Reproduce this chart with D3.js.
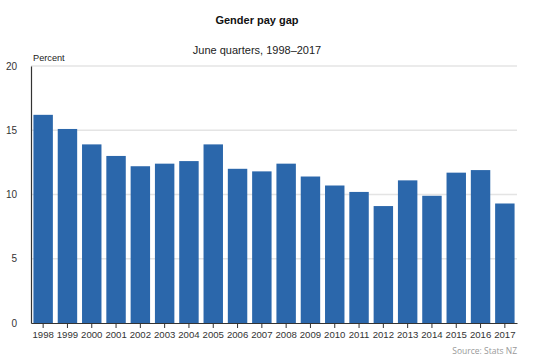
<!DOCTYPE html>
<html><head><meta charset="utf-8">
<script src="https://cdn.jsdelivr.net/npm/d3@7"></script>
<style>body{margin:0;background:#fff}svg{display:block}</style>
</head><body>
<script>
const years = ["1998","1999","2000","2001","2002","2003","2004","2005","2006","2007","2008","2009","2010","2011","2012","2013","2014","2015","2016","2017"];
const gap = [16.2,15.1,13.9,13.0,12.2,12.4,12.6,13.9,12.0,11.8,12.4,11.4,10.7,10.2,9.1,11.1,9.9,11.7,11.9,9.3];
const yTicks = [0,5,10,15,20];

const W = 535, H = 361;
const m = {left:31, right:18, top:66, bottom:38};
const svg = d3.select("body").append("svg").attr("width",W).attr("height",H);
const font = "Liberation Sans, Arial, sans-serif";

const x = d3.scaleBand().domain(years).range([m.left, W-m.right]).paddingInner(0.2).paddingOuter(0.1);
const y = d3.scaleLinear().domain([0,20]).range([H-m.bottom, m.top]);

// gridlines
svg.append("g").selectAll("line").data(yTicks.filter(d=>d>0)).join("line")
  .attr("x1", m.left).attr("x2", W-m.right)
  .attr("y1", d=>y(d)).attr("y2", d=>y(d))
  .attr("stroke","#e4e4e4").attr("stroke-width",1.5);

// bars
svg.append("g").selectAll("rect").data(years).join("rect")
  .attr("x", d=>x(d)).attr("width", x.bandwidth())
  .attr("y", (d,i)=>y(gap[i])).attr("height",(d,i)=>y(0)-y(gap[i]))
  .attr("fill","#2b67ab");

// y axis
const yAxis = d3.axisLeft(y).tickValues(yTicks).tickSize(0).tickPadding(14);
const gy = svg.append("g").attr("transform",`translate(${m.left},0)`).call(yAxis);
gy.select(".domain").attr("stroke","#333").attr("stroke-width",1.2);
gy.selectAll("text").attr("font-family",font).attr("font-size",10).attr("fill","#333");

// x axis
const xAxis = d3.axisBottom(x).tickSize(5).tickSizeOuter(0).tickPadding(3);
const gx = svg.append("g").attr("transform",`translate(0,${y(0)})`).call(xAxis);
gx.select(".domain").attr("stroke","#333").attr("stroke-width",1.2);
gx.selectAll(".tick line").attr("stroke","#333");
gx.selectAll("text").attr("font-family",font).attr("font-size",9.6).attr("fill","#333");

// titles
svg.append("text").attr("x",257).attr("y",24).attr("text-anchor","middle")
  .attr("font-family",font).attr("font-weight","bold").attr("font-size",11).attr("fill","#111")
  .text("Gender pay gap");
svg.append("text").attr("x",257).attr("y",54).attr("text-anchor","middle")
  .attr("font-family",font).attr("font-size",11).attr("fill","#222")
  .text("June quarters, 1998–2017");
svg.append("text").attr("x",33).attr("y",61)
  .attr("font-family",font).attr("font-size",9.2).attr("fill","#222")
  .text("Percent");
svg.append("text").attr("x",W-m.right).attr("y",354).attr("text-anchor","end")
  .attr("font-family","Open Sans, sans-serif").attr("font-size",8.5).attr("fill","#999")
  .text("Source: Stats NZ");
</script>
</body></html>
